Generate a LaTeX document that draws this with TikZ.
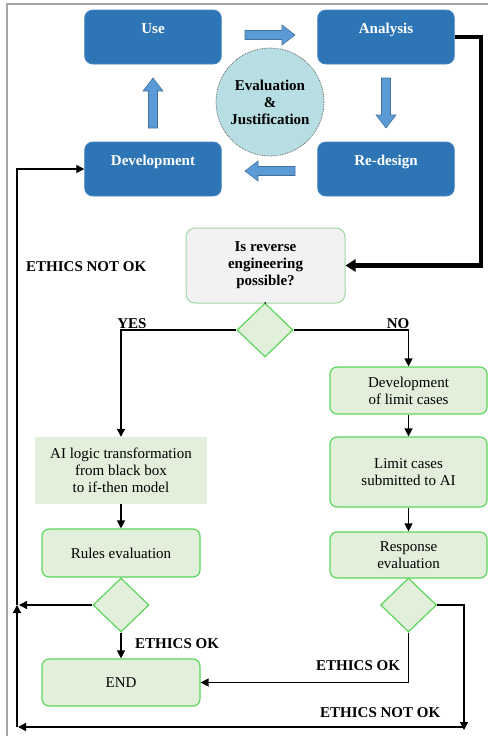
\documentclass[tikz,border=0pt]{standalone}
\usepackage{fontspec}
\setmainfont{Liberation Serif}
\usetikzlibrary{shapes.geometric,arrows.meta,calc}
\definecolor{boxblue}{HTML}{2E75B6}
\definecolor{boxblueedge}{HTML}{4A86C0}
\definecolor{arrowblue}{HTML}{5B9BD5}
\definecolor{arrowedge}{HTML}{41719C}
\definecolor{circfill}{HTML}{B7DEE2}
\definecolor{greenfill}{HTML}{E2EFDA}
\definecolor{greenedge}{HTML}{5CD65C}
\definecolor{qfill}{HTML}{F2F2F2}
\definecolor{qedge}{HTML}{9ED89E}
\newcommand\blockarrowat[3]{%
  \begin{scope}[shift={(#1,#2)},rotate=#3]
    \draw[fill=arrowblue,draw=arrowedge,line width=0.6pt]
      (-25,-4.5) -- (12,-4.5) -- (12,-10) -- (25,0) -- (12,10) -- (12,4.5) -- (-25,4.5) -- cycle;
  \end{scope}}
\tikzset{
  txt/.style={font=\fontsize{15}{17}\selectfont},
  bluebox/.style={rectangle,rounded corners=8pt,fill=boxblue,draw=boxblueedge,line width=0.8pt,
    minimum width=134pt,text width=130pt,align=center,text=white,
    font=\fontsize{15}{17}\selectfont\bfseries,inner ysep=13pt,text height=10pt,text depth=18pt},
  greenbox/.style={rectangle,rounded corners=7pt,fill=greenfill,draw=greenedge,line width=1.2pt,
    align=center,txt,inner sep=0pt},
  qbox/.style={rectangle,rounded corners=9pt,fill=qfill,draw=qedge,line width=1pt,
    align=center,txt,font=\fontsize{15}{17}\selectfont\bfseries,inner sep=0pt},
  decide/.style={diamond,aspect=1,fill=greenfill,draw=greenedge,line width=1.2pt,
    minimum width=56pt,minimum height=54pt,inner sep=0pt},
  conn/.style={line width=1.3pt,-{Triangle[length=8pt,width=8pt]}},
  plain/.style={line width=1.3pt},
  lbl/.style={font=\fontsize{15}{17}\selectfont\bfseries,inner sep=0pt},
}
\begin{document}
\begin{tikzpicture}[x=1pt,y=-1pt]
\useasboundingbox (0,0) rectangle (488,736);
% frame
\draw[gray!70,line width=1.5pt] (7,736) -- (7,4) -- (488,4);

% top cycle
\node[bluebox] (use) at (153,37) {Use};
\node[bluebox] (analysis) at (386,37) {Analysis};
\node[bluebox] (dev) at (153,169) {Development};
\node[bluebox] (redesign) at (386,169) {Re-design};
\node[circle,fill=circfill,draw=gray!80!black,densely dotted,line width=0.8pt,minimum size=108pt,
  align=center,font=\fontsize{15}{17}\selectfont\bfseries,inner sep=0pt] (eval) at (270,102)
  {Evaluation\\\&\\Justification};
\blockarrowat{270}{35}{0}
\blockarrowat{386}{103}{-90}
\blockarrowat{270}{171}{180}
\blockarrowat{153}{103}{90}

% question
\node[qbox,minimum width=159pt,minimum height=75pt] (q) at (265.5,265.5)
  {Is reverse\\engineering\\possible?};
\node[decide] (d1) at (265,330) {};

% right branch
\node[greenbox,minimum width=157pt,minimum height=47pt] (devlim) at (408.5,390.5)
  {Development\\of limit cases};
\node[greenbox,minimum width=157pt,minimum height=70pt] (limsub) at (408.5,472)
  {Limit cases\\submitted to AI};
\node[greenbox,minimum width=157pt,minimum height=46pt] (resp) at (408.5,555)
  {Response\\evaluation};
\node[decide] (d3) at (408.5,605) {};

% left branch
\node[rectangle,fill=greenfill,minimum width=172pt,minimum height=67pt,align=center,txt,inner sep=0pt]
  (ailogic) at (121,470.5) {AI logic transformation\\from black box\\to if-then model};
\node[greenbox,minimum width=158pt,minimum height=48pt] (rules) at (121,553) {Rules evaluation};
\node[decide] (d2) at (121,605) {};
\node[greenbox,minimum width=158pt,minimum height=47pt] (endbox) at (121,682.5) {END};

% coordinates
\coordinate (ra) at (481,37);
\coordinate (lm) at (17,605);
\coordinate (bl) at (17,727);
\coordinate (br) at (464,727);

% connectors
\draw[line width=4.5pt,-{Triangle[length=10pt,width=12pt]}] (analysis.east) -- (ra) |- (q.east);
\draw[plain] (q.south) -- (d1.north);
\draw[conn] (d1.west) -| (ailogic.north);
\draw[conn] (d1.east) -| (devlim.north);
\draw[conn] (devlim.south) -- (limsub.north);
\draw[conn] (limsub.south) -- (resp.north);
\draw[conn] (ailogic.south) -- (rules.north);
\draw[conn] (d2.south) -- (endbox.north);
\draw[conn] (d2.west) -- ([xshift=2pt]lm);
\draw[conn] (d3.south) |- (endbox.east);
\draw[conn] (d3.east) -| ([yshift=-3pt]br);
\draw[conn] (br) -- ([xshift=1pt]bl);
\draw[conn] (bl) -- (lm);
\draw[conn] (lm) |- (dev.west);

% labels
\node[lbl,anchor=base] (yes) at (132,328) {YES};
\node[lbl,anchor=base] (no) at (398,328) {NO};
\node[lbl,anchor=base west] (nok1) at (26,271) {ETHICS NOT OK};
\node[lbl,anchor=base west] (ok1) at (135,648) {ETHICS OK};
\node[lbl,anchor=base west] (ok2) at (316,670) {ETHICS OK};
\node[lbl,anchor=base west] (nok2) at (320,717) {ETHICS NOT OK};
\end{tikzpicture}
\end{document}
